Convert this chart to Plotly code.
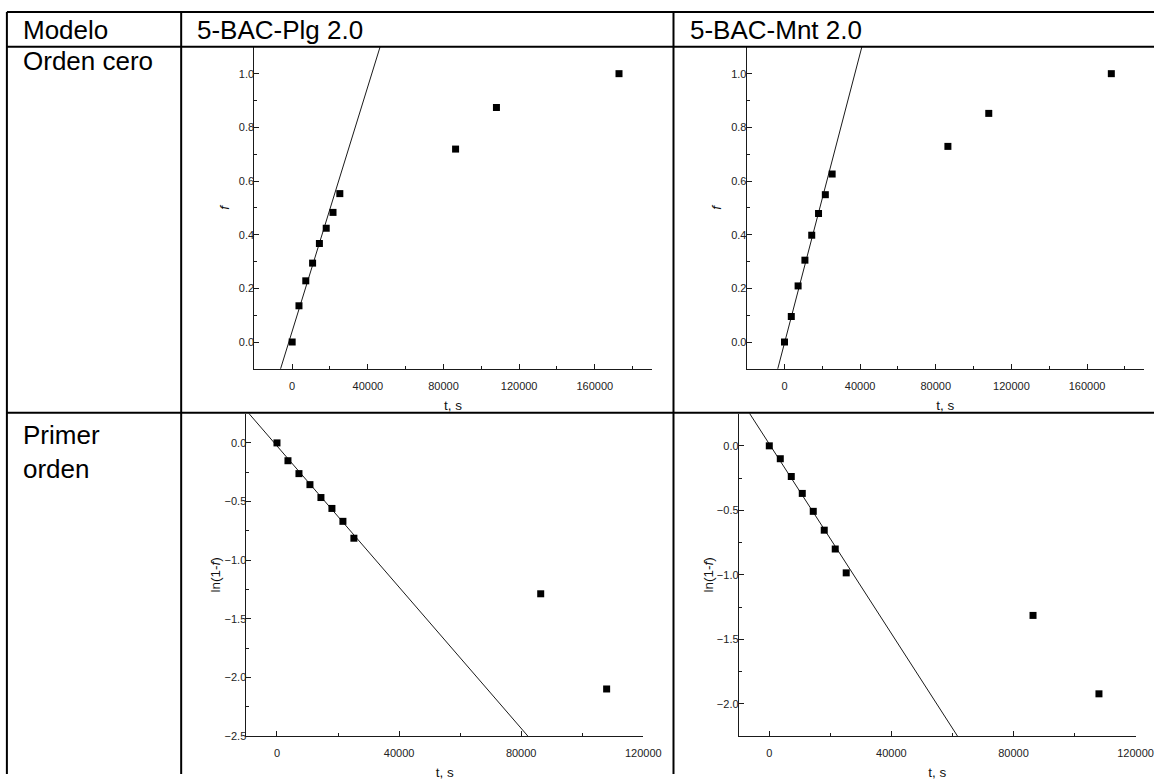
import numpy as np
import plotly.graph_objects as go

# ---------------- data ----------------
t_s = [0, 3600, 7200, 10800, 14400, 18000, 21600, 25200, 86400, 108000, 172800]
f_plg = [0.0, 0.135, 0.228, 0.294, 0.367, 0.424, 0.483, 0.553, 0.719, 0.874, 1.0]
f_mnt = [0.0, 0.095, 0.209, 0.305, 0.398, 0.479, 0.549, 0.626, 0.729, 0.852, 1.0]

t_s_ln = [0, 3600, 7200, 10800, 14400, 18000, 21600, 25200, 86400, 108000]
ln_plg = [0.0, -0.152, -0.262, -0.356, -0.466, -0.559, -0.669, -0.813, -1.287, -2.099]
ln_mnt = [0.0, -0.100, -0.238, -0.369, -0.508, -0.654, -0.800, -0.985, -1.315, -1.923]

# linear fits (intercept, slope per s)
fit_zero_plg = [0.040, 2.28e-5]
fit_zero_mnt = [-0.004, 2.698e-5]
fit_first_plg = [-0.026, -3.011e-5]
fit_first_mnt = [0.014, -3.673e-5]

col_headers = ["Modelo", "5-BAC-Plg 2.0", "5-BAC-Mnt 2.0"]
row_headers = ["Orden cero", "Primer<br>orden"]

# ---------------- layout helpers ----------------
W, H = 1172, 780
def px(x):
    return x / W
def py(y):
    return 1 - y / H

FONT = "Liberation Sans, Arial, sans-serif"
INK = "#1a1a1a"

fig = go.Figure()

panels = [
    dict(t=t_s, y=f_plg, fit=fit_zero_plg, xr=[-20000, 190000], yr=[-0.1, 1.1],
         xd=(258.3, 661.7), yd=(47.2, 371.7), ydt=0.2, ymn=0.1, yt="<i>f</i>", ys=6),
    dict(t=t_s, y=f_mnt, fit=fit_zero_mnt, xr=[-20000, 190000], yr=[-0.1, 1.1],
         xd=(758.3, 1161.7), yd=(47.2, 371.7), ydt=0.2, ymn=0.1, yt="<i>f</i>", ys=6),
    dict(t=t_s_ln, y=ln_plg, fit=fit_first_plg, xr=[-10000, 120000], yr=[-2.5, 0.25],
         xd=(250.3, 653.3), yd=(416.8, 741.7), ydt=0.5, ymn=0.25, yt="ln(1-<i>f</i>)", ys=0),
    dict(t=t_s_ln, y=ln_mnt, fit=fit_first_mnt, xr=[-10000, 120000], yr=[-2.25, 0.25],
         xd=(750.3, 1153.3), yd=(416.8, 741.7), ydt=0.5, ymn=0.25, yt="ln(1-<i>f</i>)", ys=0),
]

for i, p in enumerate(panels, start=1):
    xa = "x" if i == 1 else f"x{i}"
    ya = "y" if i == 1 else f"y{i}"
    tl = np.array(p["xr"], dtype=float)
    yl = p["fit"][0] + p["fit"][1] * tl
    fig.add_trace(go.Scatter(x=tl, y=yl, mode="lines", xaxis=xa, yaxis=ya,
                             line=dict(color=INK, width=1), showlegend=False,
                             hoverinfo="skip"))
    fig.add_trace(go.Scatter(x=p["t"], y=p["y"], mode="markers", xaxis=xa, yaxis=ya,
                             marker=dict(symbol="square", size=7, color="black",
                                         line=dict(width=0)),
                             showlegend=False, cliponaxis=False))
    common = dict(showline=True, linecolor=INK, linewidth=1, mirror=False,
                  ticks="inside", ticklen=5, tickwidth=1, tickcolor=INK,
                  showgrid=False, zeroline=False,
                  tickfont=dict(family=FONT, size=11, color="#222"))
    xkey = "xaxis" if i == 1 else f"xaxis{i}"
    ykey = "yaxis" if i == 1 else f"yaxis{i}"
    fig.update_layout(**{
        xkey: dict(common, domain=[px(p["xd"][0]), px(p["xd"][1])], range=p["xr"],
                   anchor=ya, dtick=40000, tick0=0, tickformat="d",
                   ticklabelstandoff=7,
                   minor=dict(ticks="inside", ticklen=3, dtick=20000, tickcolor=INK),
                   title=dict(text="t, s", font=dict(family=FONT, size=13.5, color="#111"),
                              standoff=9)),
        ykey: dict(common, domain=[py(p["yd"][1]), py(p["yd"][0])], range=p["yr"],
                   anchor=xa, dtick=p["ydt"], tick0=0, tickformat=".1f",
                   ticklabelstandoff=-3,
                   minor=dict(ticks="inside", ticklen=3, dtick=p["ymn"], tickcolor=INK),
                   title=dict(text=p["yt"], font=dict(family=FONT, size=13.5, color="#111"),
                              standoff=p["ys"])),
    })

# ---------------- table lines ----------------
lines = [
    (7, 12, W, 12), (7, 47, W, 47), (7, 416, W, 416),
    (7, 12, 7, H), (184, 12, 184, H), (684, 12, 684, H),
]
for x0, y0, x1, y1 in lines:
    fig.add_shape(type="line", xref="paper", yref="paper",
                  x0=px(x0), y0=py(y0), x1=px(x1), y1=py(y1),
                  line=dict(color="black", width=2), layer="above")

# ---------------- table text ----------------
hdr_font = dict(family=FONT, size=26, color="black")
for txt, x in zip(col_headers, [21, 198, 699]):
    fig.add_annotation(text=txt, xref="paper", yref="paper", x=px(x), y=py(30),
                       xanchor="left", yanchor="middle", showarrow=False, font=hdr_font)
fig.add_annotation(text=row_headers[0], xref="paper", yref="paper", x=px(21), y=py(61),
                   xanchor="left", yanchor="middle", showarrow=False, font=hdr_font)
fig.add_annotation(text=row_headers[1], xref="paper", yref="paper", x=px(21), y=py(421),
                   xanchor="left", yanchor="top", showarrow=False, font=hdr_font,
                   align="left")

fig.update_layout(width=W, height=H, margin=dict(l=0, r=0, t=0, b=0),
                  paper_bgcolor="white", plot_bgcolor="white", showlegend=False,
                  font=dict(family=FONT))

fig.write_html("out.html")
